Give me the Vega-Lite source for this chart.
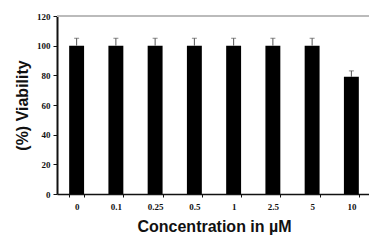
{
  "$schema": "https://vega.github.io/schema/vega-lite/v6.json",
  "width": 314,
  "height": 178,
  "autosize": {"type": "none"},
  "padding": {"left": 57, "top": 16, "right": 0, "bottom": 52},
  "background": "white",
  "data": {"values": [
    {"conc": "0", "viability": 100, "upper": 105},
    {"conc": "0.1", "viability": 100, "upper": 105},
    {"conc": "0.25", "viability": 100, "upper": 105},
    {"conc": "0.5", "viability": 100, "upper": 105},
    {"conc": "1", "viability": 100, "upper": 105},
    {"conc": "2.5", "viability": 100, "upper": 105},
    {"conc": "5", "viability": 100, "upper": 105},
    {"conc": "10", "viability": 79, "upper": 83}
  ]},
  "config": {
    "view": {"stroke": null},
    "axis": {"grid": false, "domainColor": "#111", "tickColor": "#111", "labelFont": "Liberation Serif", "labelFontSize": 9, "labelFontWeight": "bold", "labelColor": "#111", "titleFont": "Liberation Sans", "titleFontWeight": "bold", "titleFontSize": 16, "titleColor": "#111"}
  },
  "encoding": {
    "x": {"field": "conc", "type": "nominal", "sort": null,
      "scale": {"paddingInner": 0.62, "paddingOuter": 0.31},
      "axis": {"title": "Concentration in µM", "labelAngle": 0, "tickBand": "extent", "tickSize": 3, "labelPadding": 5, "titlePadding": 7, "domainWidth": 1.5}},
    "y": {"field": "viability", "type": "quantitative",
      "scale": {"domain": [0, 120], "nice": false},
      "axis": {"title": "(%) Viability", "tickCount": 6, "labelOverlap": false, "tickSize": 4, "labelPadding": 3, "titlePadding": 6, "domainWidth": 2}}
  },
  "layer": [
    {
      "mark": {"type": "bar", "color": "#000"}
    },
    {
      "mark": {"type": "rule", "color": "#555", "strokeWidth": 1},
      "encoding": {
        "y2": {"field": "upper"}
      }
    },
    {
      "mark": {"type": "tick", "color": "#555", "orient": "horizontal", "size": 5, "thickness": 1},
      "encoding": {"y": {"field": "upper", "type": "quantitative"}}
    },
    {
      "mark": {"type": "rule", "color": "#bbb", "strokeWidth": 1.5},
      "encoding": {"y": {"datum": 120, "type": "quantitative"}, "x": null}
    }
  ]
}
